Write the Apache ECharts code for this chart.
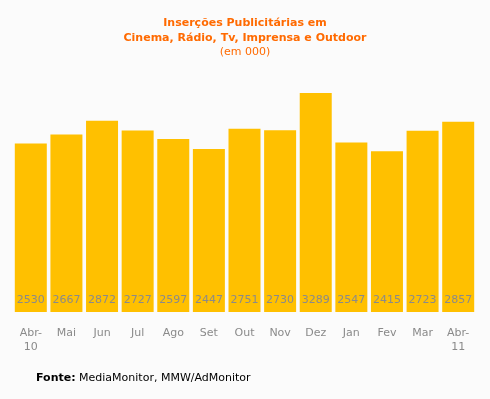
<!DOCTYPE html>
<html><head><meta charset="utf-8">
<script src="https://cdn.jsdelivr.net/npm/echarts@6/dist/echarts.min.js"></script>
<style>html,body{margin:0;padding:0;background:#fbfbfb;}#c{width:490px;height:399px;}</style>
</head><body><div id="c"></div>
<script>
const categories = ['Abr-\n10','Mai','Jun','Jul','Ago','Set','Out','Nov','Dez','Jan','Fev','Mar','Abr-\n11'];
const values = [2530,2667,2872,2727,2597,2447,2751,2730,3289,2547,2415,2723,2857];

const chart = echarts.init(document.getElementById('c'));
chart.setOption({
  backgroundColor: '#fbfbfb',
  animation: false,
  title: {
    text: 'Inserções Publicitárias em\nCinema, Rádio, Tv, Imprensa e Outdoor',
    subtext: '(em 000)',
    left: 'center', top: 11, itemGap: 1,
    textStyle: {fontFamily: 'DejaVu Sans', fontSize: 11, fontWeight: 'bold', color: '#ff6a00', lineHeight: 15},
    subtextStyle: {fontFamily: 'DejaVu Sans', fontSize: 11, color: '#ff6a00'}
  },
  grid: {left: 13, right: 14, top: 79, bottom: 87, containLabel: false},
  xAxis: {
    type: 'category', data: categories,
    axisLine: {show: false}, axisTick: {show: false},
    axisLabel: {fontFamily: 'DejaVu Sans', fontSize: 11, color: '#8a8a8a', margin: 14, lineHeight: 14, interval: 0}
  },
  yAxis: {type: 'value', min: 0, max: 3500, show: false, splitLine: {show: false}},
  series: [{
    type: 'bar', data: values, barWidth: 32,
    itemStyle: {color: '#ffc000'},
    label: {show: true, position: 'insideBottom', distance: 6, fontFamily: 'DejaVu Sans', fontSize: 11, color: '#8a8a8a'}
  }],
  graphic: [{
    type: 'text', left: 36, top: 373,
    style: {
      text: '{b|Fonte:} MediaMonitor, MMW/AdMonitor',
      rich: {b: {fontFamily: 'DejaVu Sans', fontSize: 11, fontWeight: 'bold', fill: '#000'}},
      fontFamily: 'DejaVu Sans', fontSize: 11, fill: '#000'
    }
  }]
});
</script></body></html>
